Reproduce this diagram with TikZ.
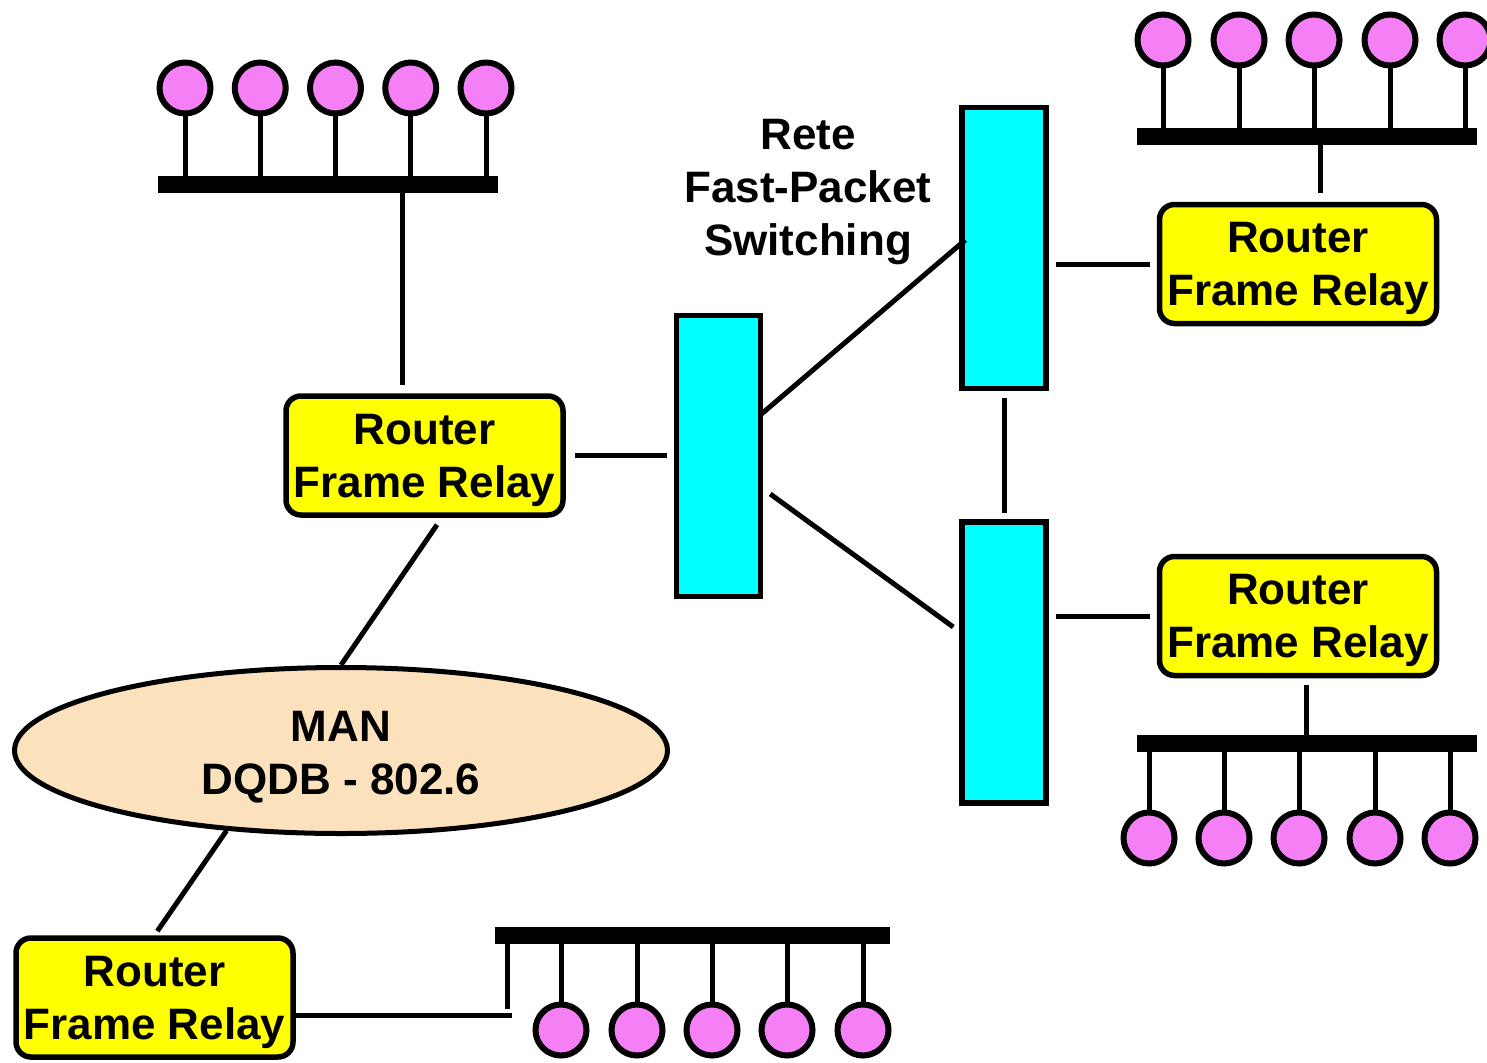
\documentclass[tikz,border=0pt]{standalone}
\usepackage{fontspec}
\setmainfont{Liberation Sans}
\usetikzlibrary{shapes.geometric,calc}
\definecolor{stpink}{RGB}{245,128,245}
\definecolor{manfill}{RGB}{252,226,188}
\definecolor{swcyan}{RGB}{0,255,255}
\definecolor{ryellow}{RGB}{255,255,0}
\begin{document}
\begin{tikzpicture}[x=1pt,y=-1pt,
  lbl/.style={font=\bfseries\fontsize{44}{53}\selectfont, align=center},
  router/.style={lbl, draw, line width=5.5pt, fill=ryellow, rounded corners=15pt,
    minimum width=277pt, minimum height=119pt, inner sep=0pt, text depth=0pt},
  switchbox/.style={draw, line width=5.5pt, fill=swcyan, minimum width=84pt,
    minimum height=281pt, inner sep=0pt},
  bus/.style={fill=black, minimum height=17pt, inner sep=0pt, outer sep=0pt},
  station/.style={circle, draw, line width=6pt, fill=stpink, minimum size=51pt, inner sep=0pt},
  conn/.style={line width=5pt},
  stem/.style={line width=5pt}]
\fill[white] (0,0) rectangle (1487,1062);
\useasboundingbox (0,0) rectangle (1487,1062);

% title
\node[lbl] (title) at (808,192) {Rete\\Fast-Packet\\Switching};

% routers
\node[router] (r1) at (424.5,455.5) {Router\\Frame Relay};
\node[router] (r2) at (1298,264) {Router\\Frame Relay};
\node[router] (r3) at (1298,616) {Router\\Frame Relay};
\node[router] (r4) at (154.5,997.5) {Router\\Frame Relay};

% switches
\node[switchbox] (s1) at (718.5,456) {};
\node[switchbox] (s2) at (1004,248) {};
\node[switchbox] (s3) at (1004,662.5) {};

% MAN
\node[ellipse, draw, line width=5pt, fill=manfill, minimum width=653pt,
  minimum height=166pt, inner sep=0pt] (man) at (341,750.5) {};
\node[lbl] (mantext) at ([yshift=-7pt]man.center) {MAN\\DQDB - 802.6};

% buses
\node[bus, minimum width=340pt] (bus1) at (328,184.5) {};
\node[bus, minimum width=340pt] (bus2) at (1307,136) {};
\node[bus, minimum width=340pt] (bus3) at (1307,743.5) {};
\node[bus, minimum width=395pt] (bus4) at (692.5,935.5) {};

% stations
\foreach \x [count=\i] in {185,260.25,335.5,410.75,486} {
  \node[station] (a\i) at (\x,88) {};
  \draw[stem] (a\i.south) -- (a\i.south |- bus1.center);
}
\foreach \x [count=\i] in {1163,1239,1314,1390,1465} {
  \node[station] (b\i) at (\x,40) {};
  \draw[stem] (b\i.south) -- (b\i.south |- bus2.center);
}
\foreach \x [count=\i] in {1149,1224,1299,1375,1450} {
  \node[station] (c\i) at (\x,838) {};
  \draw[stem] (c\i.north) -- (c\i.north |- bus3.center);
}
\foreach \x [count=\i] in {561,637,712,787,863} {
  \node[station] (d\i) at (\x,1030) {};
  \draw[stem] (d\i.north) -- (d\i.north |- bus4.center);
}

% connectors
\draw[conn, shorten <=8pt] ([xshift=-22.5pt]r1.north) -- ([xshift=-22.5pt]r1.north |- bus1.center);
\draw[conn, shorten <=9pt] ([xshift=22pt]r2.north) -- ([xshift=22pt]r2.north |- bus2.center);
\draw[conn, shorten <=7pt] ([xshift=8pt]r3.south) -- ([xshift=8pt]r3.south |- bus3.center);
\draw[conn, shorten <=9pt, shorten >=7pt] (r1.east) -- (s1.west |- r1.east);
\draw[conn] ([xshift=-3pt,yshift=41pt]s1.east) -- ([xshift=6pt,yshift=8pt]s2.west);
\draw[conn] ([xshift=7pt,yshift=-38pt]s1.east) -- ([xshift=-6pt,yshift=35.5pt]s3.west);
\draw[conn, shorten <=7pt, shorten >=6pt] (s2.south) -- (s3.north);
\draw[conn, shorten <=7pt, shorten >=7pt] (s2.east |- r2.west) -- (r2.west);
\draw[conn, shorten <=7pt, shorten >=7pt] (s3.east |- r3.west) -- (r3.west);
\draw[conn] ([xshift=12.5pt,yshift=-7pt]r1.south) -- (man.north);
\draw[conn, shorten >=5pt] (man.215) -- (r4.north);
\coordinate (tap4) at ([xshift=216pt,yshift=-17.5pt]r4.east);
\draw[conn] ([yshift=-17.5pt]r4.east) -- (tap4);
\coordinate (drop4) at ([xshift=12pt,yshift=-65pt]bus4.south west);
\draw[conn] ([xshift=12pt]bus4.south west) -- (drop4);
\end{tikzpicture}
\end{document}
